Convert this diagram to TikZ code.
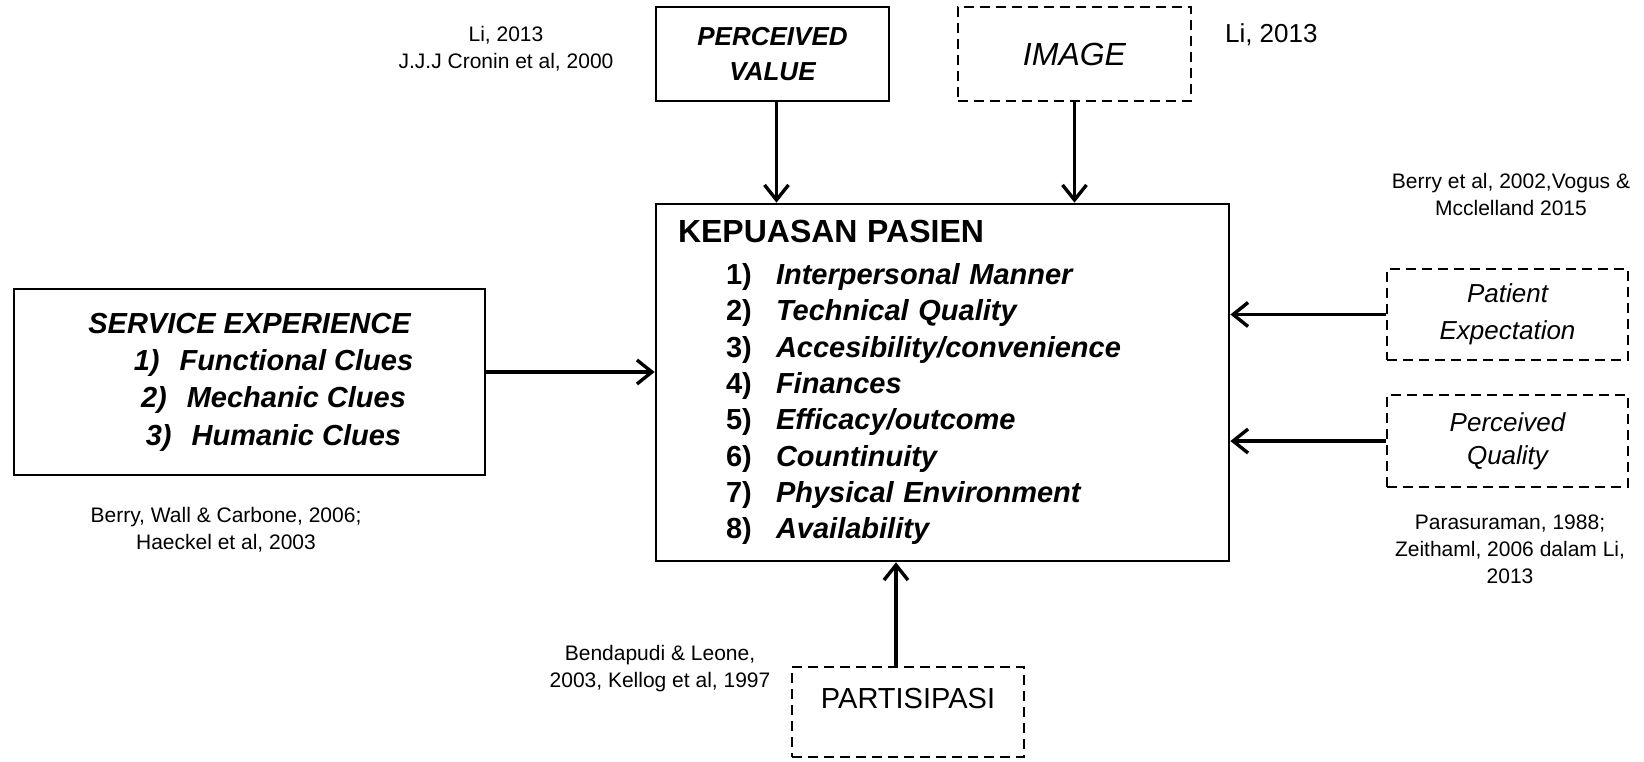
\documentclass[tikz,border=0pt]{standalone}
\usepackage{fontspec}
\setmainfont{Liberation Sans}
\usetikzlibrary{arrows.meta}

\newcommand\kpitem[2]{\hspace*{24pt}\makebox[25pt][l]{#1)}\textit{#2}}

\begin{document}
\begin{tikzpicture}[
  x=0.5pt, y=-0.5pt, >={Straight Barb[length=7.5pt,width=12pt]},
  box/.style={draw, line width=1.35pt, inner sep=0pt, align=center},
  dbox/.style={box, dash pattern=on 5pt off 3pt},
  cite/.style={align=center, font=\fontsize{10.5pt}{13.5pt}\selectfont},
  fl/.style={->, line width=1.7pt},
]
\useasboundingbox (0,0) rectangle (1644,761);

\node[box, minimum width=286.5pt, minimum height=178.5pt, text width=264.5pt,
      align=left, inner xsep=11pt,
      font=\fontsize{14.5pt}{18.15pt}\selectfont\bfseries] (kp) at (942.5,382.5)
  {{\fontsize{16pt}{18.15pt}\selectfont KEPUASAN PASIEN}\\[2.85pt]
   \kpitem{1}{Interpersonal Manner}\\
   \kpitem{2}{Technical Quality}\\
   \kpitem{3}{Accesibility/convenience}\\
   \kpitem{4}{Finances}\\
   \kpitem{5}{Efficacy/outcome}\\
   \kpitem{6}{Countinuity}\\
   \kpitem{7}{Physical Environment}\\
   \kpitem{8}{Availability}};
\node[box, minimum width=235.5pt, minimum height=93pt, text depth=3pt,
      font=\fontsize{14.5pt}{18.7pt}\selectfont\bfseries\itshape] (se) at (249.5,382)
  {SERVICE EXPERIENCE\\
   \hspace*{24pt}1)\hspace{10pt}Functional Clues\\
   \hspace*{24pt}2)\hspace{10pt}Mechanic Clues\\
   \hspace*{24pt}3)\hspace{10pt}Humanic Clues};
\node[box, minimum width=116.5pt, minimum height=47pt,
      font=\fontsize{13pt}{17.8pt}\selectfont\bfseries\itshape] (pv) at (772.5,54) {PERCEIVED\\VALUE};
\node[dbox, minimum width=116.5pt, minimum height=47pt,
      font=\fontsize{16pt}{19pt}\selectfont\itshape] (img) at (1074.5,54) {IMAGE};
\node[dbox, minimum width=120.5pt, minimum height=45.5pt,
      font=\fontsize{13pt}{18.35pt}\selectfont\itshape] (pe) at (1507.5,314.5) {Patient\\Expectation};
\node[dbox, minimum width=120.5pt, minimum height=46pt,
      font=\fontsize{13pt}{16.7pt}\selectfont\itshape] (pq) at (1507.5,441) {Perceived\\Quality};
\node[dbox, minimum width=116pt, minimum height=45pt, text depth=14pt,
      font=\fontsize{14.5pt}{17pt}\selectfont] (pa) at (908,712) {PARTISIPASI};

% sources
\node[cite] (c-pv) at (506,48.5) {Li, 2013\\J.J.J Cronin et al, 2000};
\node[anchor=west, font=\fontsize{13pt}{15pt}\selectfont] (c-img) at (1218,35) {Li, 2013};
\node[cite] (c-pe) at (1511,194) {Berry et al, 2002,Vogus \&\\Mcclelland 2015};
\node[cite] (c-se) at (226,529.5) {Berry, Wall \& Carbone, 2006;\\Haeckel et al, 2003};
\node[cite] (c-pq) at (1510,549) {Parasuraman, 1988;\\Zeithaml, 2006 dalam Li,\\2013};
\node[cite] (c-pa) at (660,669) {Bendapudi \& Leone,\\2003, Kellog et al, 1997};

\draw[fl] ([xshift=2pt]pv.south) -- ([xshift=2pt]pv.south |- kp.north);
\draw[fl] (img.south) -- (img.south |- kp.north);
\draw[fl] ([yshift=5pt]se.east) -- ([yshift=5pt]se.east -| kp.west);
\draw[fl] (pe.west) -- (pe.west -| kp.east);
\draw[fl] (pq.west) -- (pq.west -| kp.east);
\draw[fl] ([xshift=-6pt]pa.north) -- ([xshift=-6pt]pa.north |- kp.south);
\end{tikzpicture}
\end{document}
